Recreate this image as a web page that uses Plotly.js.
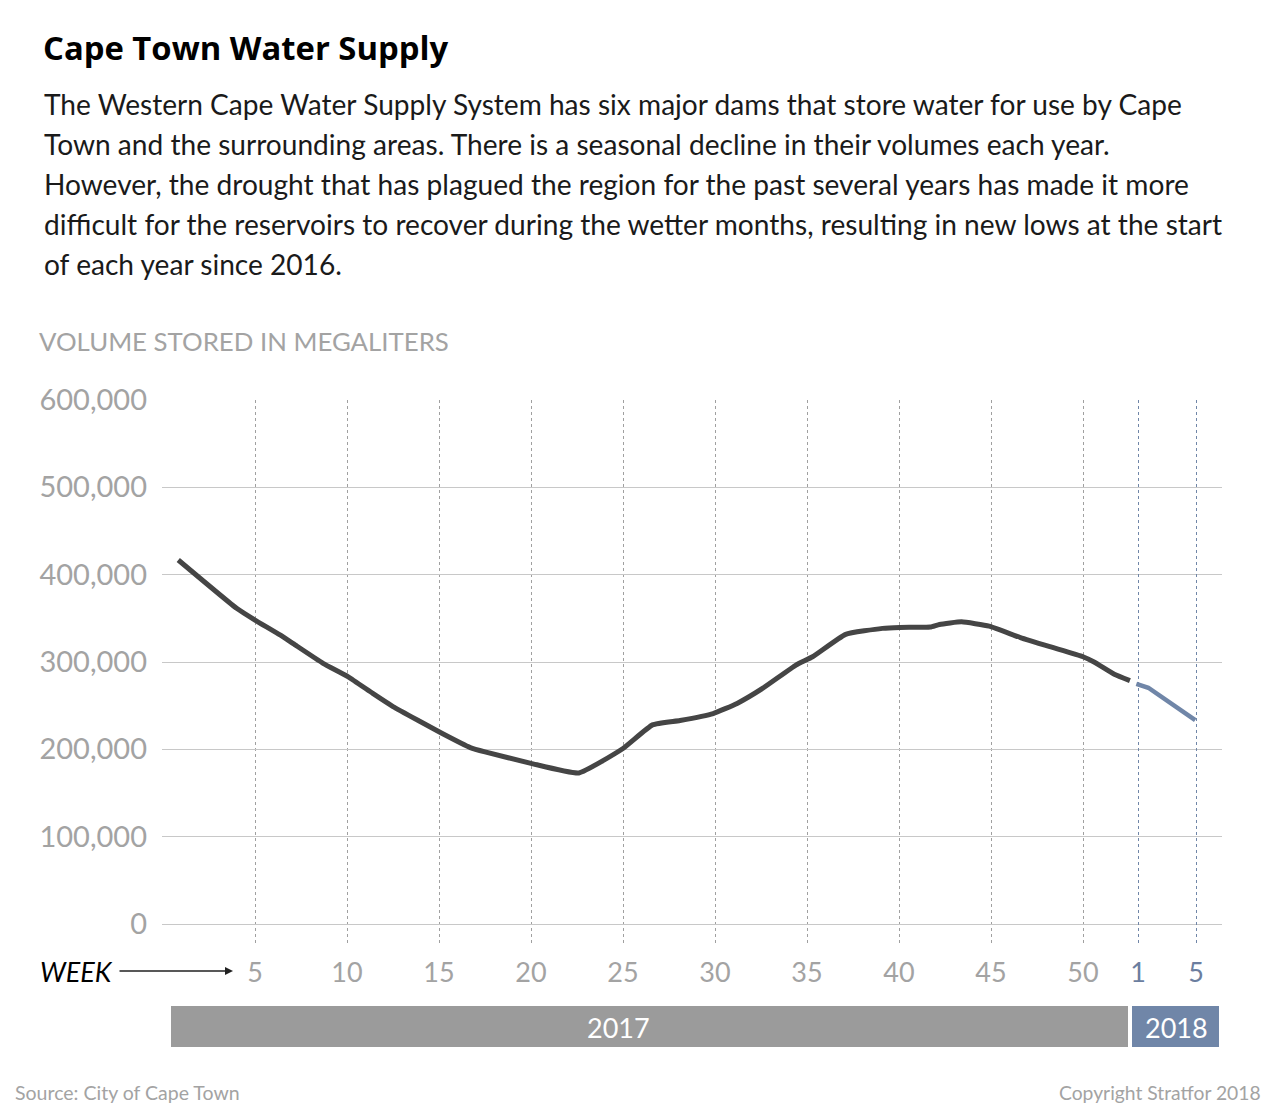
<!DOCTYPE html>
<html>
<head>
<meta charset="utf-8">
<script src="https://cdn.plot.ly/plotly-3.0.1.min.js"></script>
<style>
  html, body { margin: 0; padding: 0; background: #ffffff; }
  #chart { width: 1280px; height: 1116px; }
</style>
</head>
<body>
<div id="chart"></div>
<script>
// ---- Data ----
// 2017: position in weeks, volume stored in megaliters
const weeks2017 = [0.83, 4.0, 5.0, 6.36, 7.08, 8.7, 10.07, 11.4, 12.5, 14.0, 15.1, 16.7, 17.5, 20.0, 22.6, 25.0, 26.6, 28.1, 29.9, 31.2, 32.6, 34.4, 35.3, 37.1, 39.1, 40.05, 41.7, 42.2, 43.4, 44.9, 46.6, 48.2, 50.0, 50.6, 51.7, 52.55];
const volume2017 = [416800, 361500, 348000, 331000, 321000, 298500, 283000, 264000, 249000, 231600, 219000, 202000, 197000, 184000, 173000, 201000, 228000, 233000, 241000, 252600, 270000, 296500, 306000, 331700, 338500, 339600, 340000, 343000, 346000, 341000, 328000, 317500, 306000, 300000, 286000, 278600];
// 2018: position on the same axis (2018 week 1 sits at 53), volume
const weeks2018 = [52.9, 53.55, 56.1];
const volume2018 = [275000, 270500, 233500];

// Tick labels
const tickPos2017 = [5, 10, 15, 20, 25, 30, 35, 40, 45, 50];
const tickText2017 = ['5', '10', '15', '20', '25', '30', '35', '40', '45', '50'];
const tickPos2018 = [53, 56.15];
const tickText2018 = ['1', '5'];
const yTicks = [0, 100000, 200000, 300000, 400000, 500000, 600000];

const subtitleLines = [
  'The Western Cape Water Supply System has six major dams that store water for use by Cape',
  'Town and the surrounding areas. There is a seasonal decline in their volumes each year.',
  'However, the drought that has plagued the region for the past several years has made it more',
  'difficult for the reservoirs to recover during the wetter months, resulting in new lows at the start',
  'of each year since 2016.'
];

// ---- Layout geometry ----
const W = 1280, H = 1116;
const ML = 162, MR = 58, MT = 400, MB = 170;
const PW = W - ML - MR, PH = H - MT - MB;
const px = x => (x - ML) / PW;
const py = y => (H - MB - y) / PH;

const FONT = 'Lato, "Open Sans", sans-serif';
const GREY_TXT = '#a3a3a3';
const BLUE = '#7086a8';

const traces = [
  {
    x: weeks2017, y: volume2017, type: 'scatter', mode: 'lines',
    line: { color: '#454545', width: 5, shape: 'spline', smoothing: 0.4 },
    xaxis: 'x', yaxis: 'y', hoverinfo: 'skip', showlegend: false
  },
  {
    x: weeks2018, y: volume2018, type: 'scatter', mode: 'lines',
    line: { color: BLUE, width: 4.5 },
    xaxis: 'x2', yaxis: 'y', hoverinfo: 'skip', showlegend: false
  }
];

const xr = [-1 / 18.4, (PW - 1) / 18.4];
const yr = [-22 / 524 * 600000, 600000];

const annotations = [];
annotations.push({
  xref: 'paper', yref: 'paper', x: px(41), y: py(47), xanchor: 'left', yanchor: 'middle',
  text: '<b>Cape Town Water Supply</b>', showarrow: false,
  font: { family: '"Open Sans", sans-serif', size: 32.8, color: '#000' }
});
subtitleLines.forEach((t, i) => {
  annotations.push({
    xref: 'paper', yref: 'paper', x: px(42), y: py(104 + i * 40), xanchor: 'left', yanchor: 'middle',
    text: t, showarrow: false, font: { family: FONT, size: 28.1, color: '#1a1a1a' }
  });
});
annotations.push({
  xref: 'paper', yref: 'paper', x: px(37), y: py(341), xanchor: 'left', yanchor: 'middle',
  text: 'VOLUME STORED IN MEGALITERS', showarrow: false, font: { family: FONT, size: 25.8, color: GREY_TXT }
});
annotations.push({
  xref: 'paper', yref: 'paper', x: px(38), y: py(971), xanchor: 'left', yanchor: 'middle',
  text: '<i>WEEK</i>', showarrow: false, font: { family: FONT, size: 27, color: '#000' }
});
annotations.push({
  xref: 'paper', yref: 'paper', x: px(233), y: py(971), ax: px(118), ay: py(971),
  axref: 'paper', ayref: 'paper', text: '', showarrow: true, arrowhead: 2, arrowsize: 1,
  arrowwidth: 1.6, arrowcolor: '#222'
});
annotations.push({
  xref: 'paper', yref: 'paper', x: px(618), y: py(1027), xanchor: 'center', yanchor: 'middle',
  text: '2017', showarrow: false, font: { family: FONT, size: 27, color: '#fff' }
});
annotations.push({
  xref: 'paper', yref: 'paper', x: px(1176), y: py(1027), xanchor: 'center', yanchor: 'middle',
  text: '2018', showarrow: false, font: { family: FONT, size: 27, color: '#fff' }
});
annotations.push({
  xref: 'paper', yref: 'paper', x: px(13), y: py(1092), xanchor: 'left', yanchor: 'middle',
  text: 'Source: City of Cape Town', showarrow: false, font: { family: FONT, size: 19.5, color: GREY_TXT }
});
annotations.push({
  xref: 'paper', yref: 'paper', x: px(1263), y: py(1092), xanchor: 'right', yanchor: 'middle',
  text: 'Copyright Stratfor 2018', showarrow: false, font: { family: FONT, size: 19.3, color: GREY_TXT }
});

const shapes = [
  { type: 'rect', xref: 'paper', yref: 'paper', x0: px(171), x1: px(1128), y0: py(1047), y1: py(1006),
    fillcolor: '#9b9b9b', line: { width: 0 }, layer: 'above' },
  { type: 'rect', xref: 'paper', yref: 'paper', x0: px(1132), x1: px(1219), y0: py(1047), y1: py(1006),
    fillcolor: BLUE, line: { width: 0 }, layer: 'above' }
];

const layout = {
  width: W, height: H,
  margin: { l: ML, r: MR, t: MT, b: MB, pad: 0 },
  paper_bgcolor: '#fff', plot_bgcolor: 'rgba(0,0,0,0)',
  showlegend: false,
  font: { family: FONT },
  xaxis: {
    range: xr, tickmode: 'array', tickvals: tickPos2017, ticktext: tickText2017,
    showgrid: true, gridcolor: '#a0a0a0', griddash: 'dot', gridwidth: 1,
    zeroline: false, showline: false, ticks: '', ticklabelstandoff: 8,
    tickfont: { family: FONT, size: 27, color: GREY_TXT }, fixedrange: true
  },
  xaxis2: {
    range: xr, overlaying: 'x', anchor: 'y', side: 'bottom',
    tickmode: 'array', tickvals: tickPos2018, ticktext: tickText2018,
    showgrid: true, gridcolor: BLUE, griddash: 'dot', gridwidth: 1,
    zeroline: false, showline: false, ticks: '', ticklabelstandoff: 8,
    tickfont: { family: FONT, size: 27, color: '#6b7e9f' }, fixedrange: true
  },
  yaxis: {
    range: yr, tickmode: 'array', tickvals: yTicks, tickformat: ',d',
    showgrid: true, gridcolor: '#c8c8c8', gridwidth: 1,
    zeroline: false, showline: false, ticks: '', ticklabelstandoff: 14,
    tickfont: { family: FONT, size: 29, color: GREY_TXT }, fixedrange: true
  },
  annotations: annotations,
  shapes: shapes
};

Plotly.newPlot('chart', traces, layout, { displayModeBar: false, staticPlot: true });
</script>
</body>
</html>
